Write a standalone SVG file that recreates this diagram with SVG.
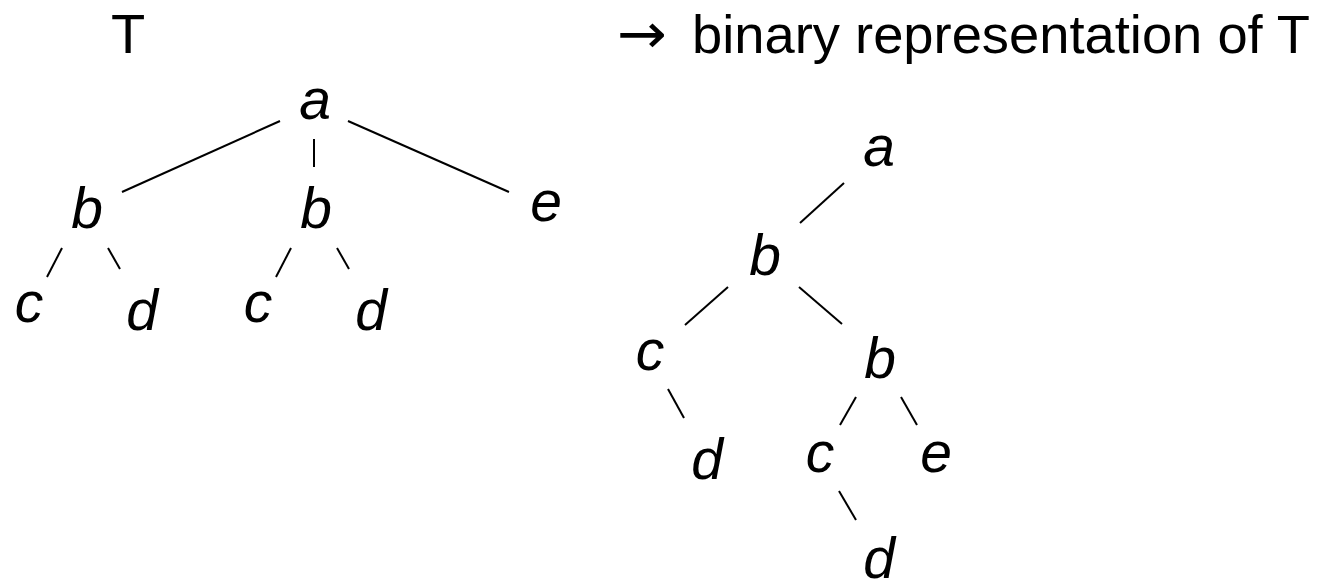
<svg xmlns="http://www.w3.org/2000/svg" width="1319" height="581" viewBox="0 0 1319 581">
<style>
.t{font-family:"Liberation Sans",Arial,sans-serif;font-size:56px;fill:#000}
.n{font-family:"Liberation Sans",Arial,sans-serif;font-style:italic;font-size:57px;fill:#000;text-anchor:middle}
.e{stroke:#000;stroke-width:2;fill:none;stroke-linecap:butt}
</style>
<rect width="1319" height="581" fill="#fff"/>
<g id="titles">
<text class="t" x="111" y="53">T</text>
<text class="t" x="617" y="53" style="font-family:'DejaVu Sans',sans-serif;font-size:56px" textLength="50" lengthAdjust="spacingAndGlyphs">→</text>
<text class="t" x="692" y="53" style="font-size:54px" textLength="618" lengthAdjust="spacingAndGlyphs">binary representation of T</text>
</g>
<g id="connectors">
<line class="e" x1="280" y1="121" x2="122" y2="192"/>
<line class="e" x1="314" y1="139" x2="314" y2="167"/>
<line class="e" x1="348" y1="121" x2="509" y2="192"/>
<line class="e" x1="62" y1="248" x2="47" y2="277"/>
<line class="e" x1="108" y1="248" x2="120" y2="269"/>
<line class="e" x1="291" y1="248" x2="276" y2="277"/>
<line class="e" x1="337" y1="248" x2="349" y2="269"/>
<line class="e" x1="844" y1="183" x2="800" y2="223"/>
<line class="e" x1="728" y1="287" x2="685" y2="325"/>
<line class="e" x1="799" y1="287" x2="842" y2="324"/>
<line class="e" x1="668" y1="389" x2="684" y2="418"/>
<line class="e" x1="856" y1="397" x2="840" y2="425"/>
<line class="e" x1="901" y1="397" x2="917" y2="425"/>
<line class="e" x1="839" y1="491" x2="856" y2="520"/>
</g>
<g id="left-a"><text class="n" x="315" y="119">a</text></g>
<g id="left-b1"><text class="n" x="87" y="228">b</text></g>
<g id="left-b2"><text class="n" x="316" y="228">b</text></g>
<g id="left-e"><text class="n" x="546" y="221">e</text></g>
<g id="left-c1"><text class="n" x="29" y="322">c</text></g>
<g id="left-d1"><text class="n" x="142" y="330">d</text></g>
<g id="left-c2"><text class="n" x="258" y="322">c</text></g>
<g id="left-d2"><text class="n" x="371" y="330">d</text></g>
<g id="right-a"><text class="n" x="879" y="166">a</text></g>
<g id="right-b1"><text class="n" x="765" y="275">b</text></g>
<g id="right-c1"><text class="n" x="650" y="370">c</text></g>
<g id="right-d1"><text class="n" x="707" y="479">d</text></g>
<g id="right-b2"><text class="n" x="880" y="378">b</text></g>
<g id="right-c2"><text class="n" x="820" y="472">c</text></g>
<g id="right-e2"><text class="n" x="936" y="472">e</text></g>
<g id="right-d2"><text class="n" x="879" y="578">d</text></g>
</svg>
